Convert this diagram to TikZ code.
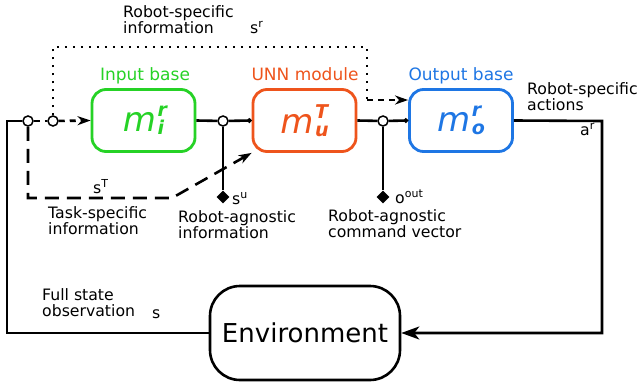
\documentclass[tikz,border=0pt]{standalone}
\usepackage{fontspec}
\setmainfont{DejaVu Sans}
\usepackage{tikz}
\usetikzlibrary{shapes}
\usetikzlibrary{arrows.meta}

\definecolor{ingreen}{RGB}{38,210,38}
\definecolor{unnorange}{RGB}{238,84,28}
\definecolor{outblue}{RGB}{30,118,228}

\newcommand{\subsup}{\fontsize{19}{19}\selectfont\bfseries\itshape}
\newcommand{\mvar}[2]{{\itshape m}\kern1.5pt\rlap{\raisebox{15pt}{\subsup #1}}\raisebox{-3pt}{\subsup #2}}

\begin{document}
\begin{tikzpicture}[x=1pt, y=-1pt,
  box/.style = {draw, rounded corners=14pt, line width=2.8pt, minimum width=103pt, minimum height=62pt, font=\fontsize{34}{34}\selectfont},
  junc/.style = {circle, draw, fill=white, line width=1.5pt, inner sep=0pt, minimum size=10pt},
  tap/.style = {diamond, fill=black, inner sep=0pt, minimum size=13pt},
  wire/.style = {line width=2.6pt},
  tip/.style = {-{Stealth[length=13pt, width=9pt, inset=4pt]}},
  bigtip/.style = {-{Stealth[length=18pt, width=13pt, inset=5pt]}},
  dot/.style = {-{Circle[length=4.5pt]}},
  lbl/.style = {anchor=north west, align=left, inner sep=0pt, font=\fontsize{15.7}{16}\selectfont},
  sym/.style = {anchor=base west, inner sep=0pt, font=\fontsize{15.7}{16}\selectfont},
  head/.style = {anchor=base, inner sep=0pt, font=\fontsize{17}{17}\selectfont}]
\useasboundingbox (0,0) rectangle (638,388);

\draw (143.5,120.5) node[name = inb, box, draw = ingreen, text = ingreen]{\mvar{r}{i}};
\draw (304.5,120.5) node[name = unn, box, draw = unnorange, text = unnorange]{\mvar{T}{u}};
\draw (461,120.5) node[name = outb, box, draw = outblue, text = outblue]{\mvar{r}{o}};
\draw (305,333) node[name = env, draw, rounded corners=30pt, line width=2.6pt, minimum width=190pt, minimum height=94pt, font=\fontsize{26}{26}\selectfont]{Environment};

\draw (28,121) node[name = c1, junc]{};
\draw (53,121) node[name = c2, junc]{};
\draw (223,121) node[name = c3, junc]{};
\draw (383,121) node[name = c4, junc]{};
\draw (223,197) node[name = d1, tap]{};
\draw (383,197) node[name = d2, tap]{};

\coordinate (lft) at (7,121);
\coordinate (rgt) at (602,121);
\coordinate (dtop) at (367,47);
\coordinate (dmid) at (367,100);
\coordinate (tk) at (172,198);

% signal flow
\draw[wire] (env.west) -| (lft) -- (c1);
\draw[wire, dash pattern=on 6pt off 5pt] (c1) -- (c2);
\draw[wire, dash pattern=on 6pt off 5pt, tip] (c2) -- (inb.west);
\draw[wire] (inb.east) -- (c3);
\draw[wire, dot] (c3) -- (unn.west);
\draw[wire] (unn.east) -- (c4);
\draw[wire, dot] (c4) -- (outb.west);
\draw[wire] (c3) -- (d1);
\draw[wire] (c4) -- (d2);
\draw[wire, bigtip] (outb.east) -- (rgt) |- (env.east);

% side channels
\draw[wire, dash pattern=on 2.5pt off 5.5pt] (c2) |- (dtop) -- (dmid);
\draw[wire, dash pattern=on 6pt off 5pt, tip] (dmid) -- (dmid -| outb.west);
\draw[wire, dash pattern=on 14pt off 8pt, tip] (c1) |- (tk) -- (unn.south west);

% labels
\draw (145,80) node[name = hin, head, text = ingreen]{Input base};
\draw (305,80) node[name = hunn, head, text = unnorange]{UNN module};
\draw (461,80) node[name = hout, head, text = outblue]{Output base};

\draw (123,5) node[name = lrs, lbl]{Robot-specific\\information};
\draw (250,33) node[name = lsr, sym]{s\textsuperscript{r}};
\draw (527,82) node[name = lact, lbl]{Robot-specific\\actions};
\draw (580,135) node[name = lar, sym]{a\textsuperscript{r}};
\draw (93,193) node[name = lst, sym]{s\textsuperscript{T}};
\draw (48,206) node[name = ltask, lbl]{Task-specific\\information};
\draw (232,204) node[name = lsu, sym]{s\textsuperscript{u}};
\draw (178,210) node[name = lagn, lbl]{Robot-agnostic\\information};
\draw (395,203) node[name = lout, sym]{o\textsuperscript{out}};
\draw (328,209) node[name = lcmd, lbl]{Robot-agnostic\\command vector};
\draw (42,288) node[name = lfull, lbl]{Full state\\observation};
\draw (152,318) node[name = ls, sym]{s};

\end{tikzpicture}
\end{document}
